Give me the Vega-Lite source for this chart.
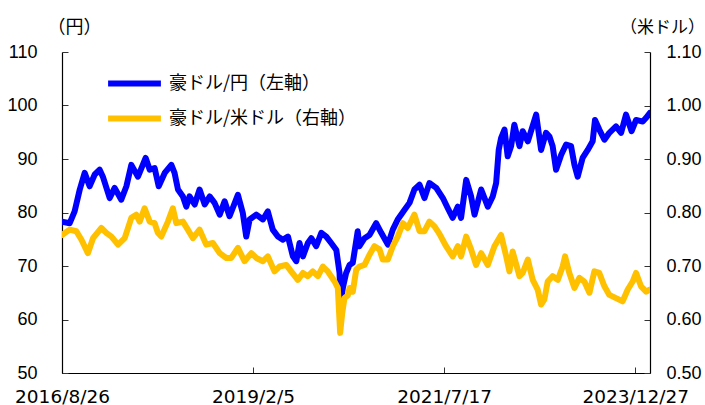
{
  "$schema": "https://vega.github.io/schema/vega-lite/v6.json",
  "width": 588,
  "height": 321,
  "autosize": {"type": "none"},
  "padding": {"left": 62, "top": 52, "right": 55, "bottom": 32},
  "background": "white",
  "config": {
    "view": {"stroke": null},
    "axis": {"grid": false, "domainColor": "black", "tickColor": "#333333", "labelColor": "black", "titleColor": "black", "domainWidth": 1.2}
  },
  "datasets": {
    "jpy": [
      {"date": "2016/08/26", "value": 78.3}, {"date": "2016/10/01", "value": 78.0}, {"date": "2016/10/24", "value": 80.2},
      {"date": "2016/11/17", "value": 84.3}, {"date": "2016/12/10", "value": 87.4}, {"date": "2017/01/02", "value": 84.9},
      {"date": "2017/01/26", "value": 87.1}, {"date": "2017/02/18", "value": 88.0}, {"date": "2017/03/05", "value": 86.7},
      {"date": "2017/04/06", "value": 82.7}, {"date": "2017/04/29", "value": 84.6}, {"date": "2017/05/30", "value": 82.4},
      {"date": "2017/06/23", "value": 84.9}, {"date": "2017/07/16", "value": 88.9}, {"date": "2017/08/16", "value": 86.7},
      {"date": "2017/09/21", "value": 90.2}, {"date": "2017/10/10", "value": 88.0}, {"date": "2017/11/02", "value": 88.3},
      {"date": "2017/11/21", "value": 84.9}, {"date": "2017/12/19", "value": 87.4}, {"date": "2018/01/19", "value": 88.9},
      {"date": "2018/02/03", "value": 87.4}, {"date": "2018/02/19", "value": 84.3}, {"date": "2018/03/14", "value": 83.0},
      {"date": "2018/03/30", "value": 81.1}, {"date": "2018/04/14", "value": 83.0}, {"date": "2018/05/08", "value": 81.5},
      {"date": "2018/05/31", "value": 84.3}, {"date": "2018/06/24", "value": 81.5}, {"date": "2018/07/17", "value": 83.0},
      {"date": "2018/08/09", "value": 81.8}, {"date": "2018/09/02", "value": 79.6}, {"date": "2018/09/25", "value": 82.1},
      {"date": "2018/10/18", "value": 79.3}, {"date": "2018/11/26", "value": 83.3}, {"date": "2018/12/19", "value": 79.9},
      {"date": "2019/01/04", "value": 75.5}, {"date": "2019/01/20", "value": 78.7}, {"date": "2019/02/20", "value": 79.6},
      {"date": "2019/03/23", "value": 78.7}, {"date": "2019/04/15", "value": 80.2}, {"date": "2019/05/08", "value": 76.8},
      {"date": "2019/06/01", "value": 75.5}, {"date": "2019/06/24", "value": 74.9}, {"date": "2019/07/18", "value": 75.5},
      {"date": "2019/08/10", "value": 71.8}, {"date": "2019/08/26", "value": 70.9}, {"date": "2019/09/10", "value": 74.3},
      {"date": "2019/09/26", "value": 71.8}, {"date": "2019/10/19", "value": 74.3}, {"date": "2019/11/04", "value": 75.2},
      {"date": "2019/11/27", "value": 73.7}, {"date": "2019/12/21", "value": 76.2}, {"date": "2020/01/13", "value": 75.5},
      {"date": "2020/02/05", "value": 74.3}, {"date": "2020/02/29", "value": 73.0}, {"date": "2020/03/15", "value": 68.7},
      {"date": "2020/03/21", "value": 63.3}, {"date": "2020/03/31", "value": 66.0}, {"date": "2020/04/15", "value": 68.7},
      {"date": "2020/05/01", "value": 70.2}, {"date": "2020/05/16", "value": 70.6}, {"date": "2020/06/08", "value": 76.5},
      {"date": "2020/06/16", "value": 73.7}, {"date": "2020/07/10", "value": 75.2}, {"date": "2020/08/02", "value": 75.8},
      {"date": "2020/09/02", "value": 78.0}, {"date": "2020/09/26", "value": 76.2}, {"date": "2020/10/27", "value": 74.0},
      {"date": "2020/11/19", "value": 76.8}, {"date": "2020/12/12", "value": 78.7}, {"date": "2021/01/13", "value": 80.5},
      {"date": "2021/02/05", "value": 81.8}, {"date": "2021/02/28", "value": 84.3}, {"date": "2021/03/24", "value": 85.2},
      {"date": "2021/04/16", "value": 82.7}, {"date": "2021/05/09", "value": 85.5}, {"date": "2021/06/10", "value": 84.6},
      {"date": "2021/07/11", "value": 82.7}, {"date": "2021/08/03", "value": 80.8}, {"date": "2021/08/26", "value": 79.0},
      {"date": "2021/09/19", "value": 81.1}, {"date": "2021/10/04", "value": 79.0}, {"date": "2021/10/28", "value": 86.1},
      {"date": "2021/11/20", "value": 83.0}, {"date": "2021/12/06", "value": 79.6}, {"date": "2022/01/06", "value": 84.3},
      {"date": "2022/02/06", "value": 81.1}, {"date": "2022/03/01", "value": 83.0}, {"date": "2022/03/17", "value": 85.5},
      {"date": "2022/03/29", "value": 91.7}, {"date": "2022/04/09", "value": 93.9}, {"date": "2022/04/25", "value": 95.5},
      {"date": "2022/05/10", "value": 90.5}, {"date": "2022/05/26", "value": 92.4}, {"date": "2022/06/10", "value": 96.4},
      {"date": "2022/07/04", "value": 92.4}, {"date": "2022/07/19", "value": 95.2}, {"date": "2022/08/12", "value": 93.3},
      {"date": "2022/09/20", "value": 98.3}, {"date": "2022/10/13", "value": 91.7}, {"date": "2022/11/05", "value": 94.9},
      {"date": "2022/11/21", "value": 94.2}, {"date": "2022/12/06", "value": 92.4}, {"date": "2022/12/22", "value": 88.0},
      {"date": "2023/01/15", "value": 90.8}, {"date": "2023/02/07", "value": 92.7}, {"date": "2023/03/02", "value": 92.4},
      {"date": "2023/03/18", "value": 88.9}, {"date": "2023/04/02", "value": 86.7}, {"date": "2023/04/25", "value": 90.2},
      {"date": "2023/05/19", "value": 91.7}, {"date": "2023/06/11", "value": 93.3}, {"date": "2023/06/22", "value": 97.3},
      {"date": "2023/07/12", "value": 95.5}, {"date": "2023/08/05", "value": 93.6}, {"date": "2023/08/28", "value": 94.9},
      {"date": "2023/09/28", "value": 96.1}, {"date": "2023/10/22", "value": 94.9}, {"date": "2023/11/14", "value": 98.3},
      {"date": "2023/12/10", "value": 95.2}, {"date": "2023/12/31", "value": 97.3}, {"date": "2024/01/31", "value": 97.0},
      {"date": "2024/02/16", "value": 97.7}, {"date": "2024/03/04", "value": 98.6}
    ],
    "usd": [
      {"date": "2016/08/26", "value": 0.758}, {"date": "2016/10/01", "value": 0.768}, {"date": "2016/11/01", "value": 0.765},
      {"date": "2016/11/25", "value": 0.749}, {"date": "2016/12/25", "value": 0.724}, {"date": "2017/01/18", "value": 0.752},
      {"date": "2017/02/26", "value": 0.771}, {"date": "2017/03/21", "value": 0.762}, {"date": "2017/04/14", "value": 0.755},
      {"date": "2017/05/15", "value": 0.740}, {"date": "2017/06/15", "value": 0.752}, {"date": "2017/07/16", "value": 0.790},
      {"date": "2017/08/08", "value": 0.796}, {"date": "2017/08/24", "value": 0.783}, {"date": "2017/09/16", "value": 0.808},
      {"date": "2017/10/10", "value": 0.783}, {"date": "2017/11/02", "value": 0.780}, {"date": "2017/11/17", "value": 0.762},
      {"date": "2017/12/03", "value": 0.755}, {"date": "2018/01/03", "value": 0.783}, {"date": "2018/01/26", "value": 0.808},
      {"date": "2018/02/11", "value": 0.780}, {"date": "2018/03/14", "value": 0.783}, {"date": "2018/04/06", "value": 0.768},
      {"date": "2018/04/30", "value": 0.752}, {"date": "2018/05/31", "value": 0.768}, {"date": "2018/07/01", "value": 0.740},
      {"date": "2018/08/01", "value": 0.743}, {"date": "2018/09/02", "value": 0.724}, {"date": "2018/10/03", "value": 0.715},
      {"date": "2018/10/26", "value": 0.715}, {"date": "2018/11/26", "value": 0.734}, {"date": "2018/12/27", "value": 0.709},
      {"date": "2019/01/28", "value": 0.724}, {"date": "2019/02/20", "value": 0.715}, {"date": "2019/03/23", "value": 0.709},
      {"date": "2019/04/15", "value": 0.718}, {"date": "2019/05/16", "value": 0.690}, {"date": "2019/06/09", "value": 0.699},
      {"date": "2019/07/10", "value": 0.702}, {"date": "2019/08/02", "value": 0.690}, {"date": "2019/09/02", "value": 0.674},
      {"date": "2019/09/26", "value": 0.687}, {"date": "2019/10/19", "value": 0.681}, {"date": "2019/11/11", "value": 0.690},
      {"date": "2019/12/05", "value": 0.681}, {"date": "2019/12/28", "value": 0.699}, {"date": "2020/01/20", "value": 0.690},
      {"date": "2020/02/21", "value": 0.671}, {"date": "2020/03/07", "value": 0.659}, {"date": "2020/03/18", "value": 0.575},
      {"date": "2020/03/27", "value": 0.610}, {"date": "2020/04/07", "value": 0.640}, {"date": "2020/04/23", "value": 0.645},
      {"date": "2020/05/01", "value": 0.659}, {"date": "2020/05/16", "value": 0.652}, {"date": "2020/06/01", "value": 0.693},
      {"date": "2020/06/16", "value": 0.699}, {"date": "2020/07/10", "value": 0.702}, {"date": "2020/08/02", "value": 0.721},
      {"date": "2020/08/25", "value": 0.737}, {"date": "2020/09/18", "value": 0.731}, {"date": "2020/10/03", "value": 0.712},
      {"date": "2020/10/27", "value": 0.712}, {"date": "2020/11/19", "value": 0.737}, {"date": "2020/12/12", "value": 0.755},
      {"date": "2021/01/05", "value": 0.780}, {"date": "2021/01/28", "value": 0.771}, {"date": "2021/02/28", "value": 0.796},
      {"date": "2021/03/24", "value": 0.765}, {"date": "2021/04/16", "value": 0.765}, {"date": "2021/05/09", "value": 0.783},
      {"date": "2021/06/02", "value": 0.774}, {"date": "2021/06/25", "value": 0.760}, {"date": "2021/07/26", "value": 0.737},
      {"date": "2021/08/26", "value": 0.718}, {"date": "2021/09/19", "value": 0.737}, {"date": "2021/10/04", "value": 0.718},
      {"date": "2021/10/28", "value": 0.755}, {"date": "2021/11/20", "value": 0.731}, {"date": "2021/12/13", "value": 0.702},
      {"date": "2022/01/06", "value": 0.724}, {"date": "2022/02/06", "value": 0.702}, {"date": "2022/03/09", "value": 0.737},
      {"date": "2022/04/09", "value": 0.758}, {"date": "2022/05/03", "value": 0.718}, {"date": "2022/05/18", "value": 0.690},
      {"date": "2022/06/02", "value": 0.727}, {"date": "2022/07/04", "value": 0.681}, {"date": "2022/07/19", "value": 0.687},
      {"date": "2022/08/12", "value": 0.712}, {"date": "2022/09/04", "value": 0.674}, {"date": "2022/09/27", "value": 0.656},
      {"date": "2022/10/13", "value": 0.628}, {"date": "2022/10/28", "value": 0.637}, {"date": "2022/11/13", "value": 0.671},
      {"date": "2022/12/06", "value": 0.681}, {"date": "2022/12/30", "value": 0.674}, {"date": "2023/01/22", "value": 0.699},
      {"date": "2023/02/02", "value": 0.718}, {"date": "2023/02/22", "value": 0.687}, {"date": "2023/03/18", "value": 0.659},
      {"date": "2023/04/10", "value": 0.678}, {"date": "2023/05/03", "value": 0.671}, {"date": "2023/05/27", "value": 0.650},
      {"date": "2023/06/19", "value": 0.690}, {"date": "2023/07/12", "value": 0.687}, {"date": "2023/08/05", "value": 0.662},
      {"date": "2023/08/28", "value": 0.646}, {"date": "2023/09/28", "value": 0.640}, {"date": "2023/10/29", "value": 0.634},
      {"date": "2023/11/22", "value": 0.656}, {"date": "2023/12/15", "value": 0.671}, {"date": "2023/12/31", "value": 0.687},
      {"date": "2024/01/23", "value": 0.662}, {"date": "2024/02/16", "value": 0.652}, {"date": "2024/03/04", "value": 0.656}
    ]
  },
  "layer": [
    {
      "data": {"name": "jpy"},
      "mark": {"type": "line", "strokeWidth": 6, "strokeJoin": "round", "strokeCap": "round", "clip": true},
      "encoding": {
        "x": {
          "field": "date", "type": "temporal",
          "scale": {"domain": [{"year": 2016, "month": 8, "date": 26}, {"year": 2024, "month": 3, "date": 5}]},
          "axis": {
            "title": null,
            "values": [{"year": 2016, "month": 8, "date": 26}, {"year": 2019, "month": 2, "date": 5}, {"year": 2021, "month": 7, "date": 17}, {"year": 2023, "month": 12, "date": 27}],
            "format": "%Y/%-m/%-d",
            "labelFont": "DejaVu Sans", "labelFontSize": 18.5,
            "tickSize": -6, "labelPadding": 20, "labelFlush": false, "labelOverlap": false
          }
        },
        "y": {
          "field": "value", "type": "quantitative",
          "scale": {"domain": [50, 110], "nice": false, "zero": false},
          "axis": {
            "values": [50, 60, 70, 80, 90, 100, 110],
            "tickSize": -6, "labelPadding": 31,
            "labelFont": "Liberation Sans", "labelFontSize": 18,
            "title": "（円）", "titleAngle": 0, "titleX": 12, "titleY": -25,
            "titleAlign": "center", "titleBaseline": "middle",
            "titleFont": "Noto Sans CJK JP", "titleFontSize": 18, "titleFontWeight": "normal"
          }
        },
        "color": {
          "datum": "豪ドル/円（左軸）", "type": "nominal",
          "scale": {"domain": ["豪ドル/円（左軸）", "豪ドル/米ドル（右軸）"], "range": ["#0000FF", "#FFC000"]},
          "legend": {
            "orient": "none", "legendX": 53, "legendY": 12, "title": null,
            "symbolType": "M-1.6,0H1.6", "symbolSize": 1089, "symbolStrokeWidth": 6,
            "labelFont": "Noto Sans CJK JP", "labelFontSize": 18, "labelColor": "black", "labelLimit": 400,
            "rowPadding": 3, "padding": 0, "labelOffset": 15
          }
        }
      }
    },
    {
      "data": {"name": "usd"},
      "mark": {"type": "line", "strokeWidth": 6, "strokeJoin": "round", "strokeCap": "round", "clip": true},
      "encoding": {
        "x": {"field": "date", "type": "temporal"},
        "y": {
          "field": "value", "type": "quantitative",
          "scale": {"domain": [0.5, 1.1], "nice": false, "zero": false},
          "axis": {
            "orient": "right",
            "values": [0.5, 0.6, 0.7, 0.8, 0.9, 1.0, 1.1], "format": ".2f",
            "tickSize": -6, "labelPadding": 22,
            "labelFont": "Liberation Sans", "labelFontSize": 18,
            "title": "（米ドル）", "titleAngle": 0, "titleX": 12, "titleY": -25,
            "titleAlign": "center", "titleBaseline": "middle",
            "titleFont": "Noto Sans CJK JP", "titleFontSize": 17, "titleFontWeight": "normal"
          }
        },
        "color": {"datum": "豪ドル/米ドル（右軸）", "type": "nominal"}
      }
    }
  ],
  "resolve": {"scale": {"y": "independent"}}
}
